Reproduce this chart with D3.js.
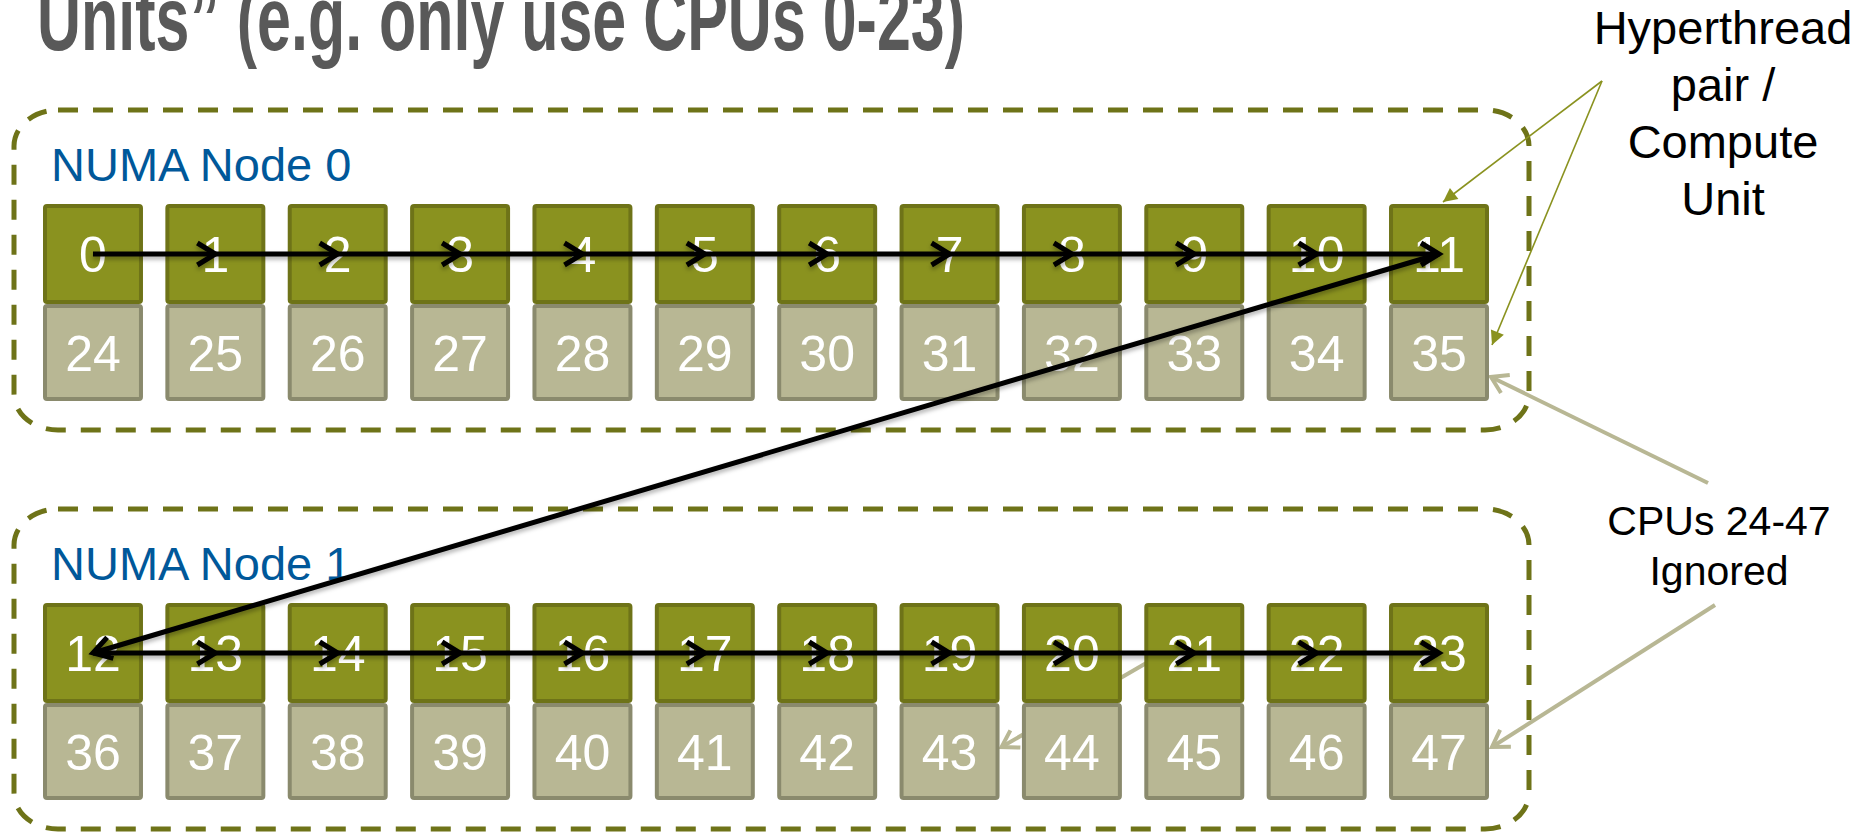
<!DOCTYPE html>
<html>
<head>
<meta charset="utf-8">
<script src="https://cdn.jsdelivr.net/npm/d3@7"></script>
<style>
body { margin: 0; background: #fff; }
svg { display: block; font-family: "Liberation Sans", Arial, sans-serif; }
</style>
</head>
<body>
<div id="chart"></div>
<script>
//data
var titleText = "Units\u201D (e.g. only use CPUs 0-23)";
var nodeNames = ["NUMA Node 0", "NUMA Node 1"];
var coreRows = [
    [0, 1, 2, 3, 4, 5, 6, 7, 8, 9, 10, 11],
    [12, 13, 14, 15, 16, 17, 18, 19, 20, 21, 22, 23]
];
var threadRows = [
    [24, 25, 26, 27, 28, 29, 30, 31, 32, 33, 34, 35],
    [36, 37, 38, 39, 40, 41, 42, 43, 44, 45, 46, 47]
];
//order the process is pinned in
var pinOrder = [0, 1, 2, 3, 4, 5, 6, 7, 8, 9, 10, 11, 12, 13, 14, 15, 16, 17, 18, 19, 20, 21, 22, 23];
var htLabel = ["Hyperthread", "pair /", "Compute", "Unit"];
var ignoredLabel = ["CPUs 24-47", "Ignored"];

//colors
var olive = "#8A921F", oliveDark = "#6E7318", tan = "#B8B794", tanDark = "#8A8A6D";

var width = 1866, height = 832;
var svg = d3.select("#chart").append("svg").attr("width", width).attr("height", height);

//scales: column -> x, node -> y of core row
var x = d3.scaleBand().domain(d3.range(12)).range([43, 1489]).paddingInner(0.183).paddingOuter(0);
var y = d3.scaleLinear().domain([0, 1]).range([204, 603]);
var coreH = 100, threadH = 97, bw = x.bandwidth();

//lookup position of each cpu
var pos = {};
coreRows.forEach(function(row, n){
    row.forEach(function(c, i){ pos[c] = {node: n, col: i}; });
});
function cx(c){ return x(pos[c].col) + bw / 2; }
function cy(c){ return y(pos[c].node) + coreH / 2; }

//markers + shadow
var defs = svg.append("defs");
defs.append("marker").attr("id", "chev")
    .attr("markerUnits", "userSpaceOnUse").attr("orient", "auto")
    .attr("viewBox", "-30 -20 40 40").attr("markerWidth", 40).attr("markerHeight", 40)
    .attr("refX", 0).attr("refY", 0)
    .append("path").attr("d", "M-18,-11 L0,0 L-18,11")
    .attr("fill", "none").attr("stroke", "#000").attr("stroke-width", 5);
defs.append("marker").attr("id", "chevGray")
    .attr("markerUnits", "userSpaceOnUse").attr("orient", "auto")
    .attr("viewBox", "-30 -20 40 40").attr("markerWidth", 40).attr("markerHeight", 40)
    .attr("refX", 0).attr("refY", 0)
    .append("path").attr("d", "M-16,-10 L0,0 L-16,10")
    .attr("fill", "none").attr("stroke", tan).attr("stroke-width", 4);
defs.append("marker").attr("id", "tri")
    .attr("markerUnits", "userSpaceOnUse").attr("orient", "auto")
    .attr("viewBox", "-20 -10 24 20").attr("markerWidth", 24).attr("markerHeight", 20)
    .attr("refX", 0).attr("refY", 0)
    .append("path").attr("d", "M-14,-7 L0,0 L-14,7 Z").attr("fill", olive);
defs.append("filter").attr("id", "shadow").attr("x", "-5%").attr("y", "-50%").attr("width", "110%").attr("height", "200%")
    .append("feDropShadow").attr("dx", 0).attr("dy", 3).attr("stdDeviation", 2)
    .attr("flood-color", "#000").attr("flood-opacity", 0.3);

//title (tall, narrow, clipped at top like the slide)
svg.append("text")
    .attr("x", 37).attr("y", 50)
    .attr("font-size", 90).attr("font-weight", "bold").attr("fill", "#595959")
    .attr("textLength", 928).attr("lengthAdjust", "spacingAndGlyphs")
    .text(titleText);

//numa node dashed boxes
var node = svg.selectAll("g.node").data(nodeNames).enter().append("g").attr("class", "node");
node.append("rect")
    .attr("x", 14).attr("y", function(d, i){ return y(i) - 94; })
    .attr("width", 1515).attr("height", 320)
    .attr("rx", 44).attr("ry", 36)
    .attr("fill", "none").attr("stroke", oliveDark).attr("stroke-width", 5)
    .attr("stroke-dasharray", "20,15");
node.append("text")
    .attr("x", 51).attr("y", function(d, i){ return y(i) - 23; })
    .attr("font-size", 47).attr("fill", "#00589A")
    .text(function(d){ return d; });

//gray leader lines (drawn under the boxes)
var gray = svg.append("g").attr("stroke", tan).attr("stroke-width", 4).attr("fill", "none");
gray.append("line")
    .attr("x1", 1708).attr("y1", 483)
    .attr("x2", x(11) + bw + 2).attr("y2", y(0) + coreH + 73)
    .attr("marker-end", "url(#chevGray)");
gray.append("line")
    .attr("x1", 1715).attr("y1", 605)
    .attr("x2", x(11) + bw + 3).attr("y2", y(1) + coreH + 44)
    .attr("marker-end", "url(#chevGray)");
gray.append("line")
    .attr("x1", x(9) + 40).attr("y1", y(1) + 38)
    .attr("x2", x(7) + bw + 2).attr("y2", y(1) + coreH + 44)
    .attr("marker-end", "url(#chevGray)");

//cores (top half) and their hyperthreads (bottom half)
function drawCells(rows, top, h, fill, stroke){
    rows.forEach(function(row, n){
        var g = svg.append("g");
        g.selectAll("rect").data(row).enter().append("rect")
            .attr("x", function(d, i){ return x(i) + 2; })
            .attr("y", top(n) + 2)
            .attr("width", bw - 4).attr("height", h - 4)
            .attr("rx", 2)
            .attr("fill", fill).attr("stroke", stroke).attr("stroke-width", 4);
        g.selectAll("text").data(row).enter().append("text")
            .attr("x", function(d, i){ return x(i) + bw / 2; })
            .attr("y", top(n) + h / 2 + 18)
            .attr("text-anchor", "middle")
            .attr("font-size", 50).attr("fill", "#fff")
            .text(function(d){ return d; });
    });
}
drawCells(coreRows, function(n){ return y(n); }, coreH, olive, oliveDark);
drawCells(threadRows, function(n){ return y(n) + coreH; }, threadH, tan, tanDark);

//pinning order arrows
var links = [];
for (var k = 0; k < pinOrder.length - 1; k++){
    links.push([pinOrder[k], pinOrder[k + 1]]);
}
svg.append("g").attr("filter", "url(#shadow)")
    .selectAll("line").data(links).enter().append("line")
    .attr("x1", function(d){ return cx(d[0]); })
    .attr("y1", function(d){ return cy(d[0]); })
    .attr("x2", function(d){ return cx(d[1]); })
    .attr("y2", function(d){ return cy(d[1]); })
    .attr("stroke", "#000").attr("stroke-width", 5)
    .attr("marker-end", "url(#chev)");

//olive leader lines for hyperthread pair
var lead = svg.append("g").attr("stroke", olive).attr("stroke-width", 1.6).attr("fill", "none");
lead.append("line")
    .attr("x1", 1602).attr("y1", 81)
    .attr("x2", x(11) + bw / 2 + 4).attr("y2", y(0) - 2)
    .attr("marker-end", "url(#tri)");
lead.append("line")
    .attr("x1", 1602).attr("y1", 81)
    .attr("x2", x(11) + bw + 3).attr("y2", y(0) + coreH + 41)
    .attr("marker-end", "url(#tri)");

//annotation text
svg.append("g").selectAll("text").data(htLabel).enter().append("text")
    .attr("x", 1723).attr("y", function(d, i){ return 44 + i * 57; })
    .attr("text-anchor", "middle").attr("font-size", 47).attr("fill", "#000")
    .text(function(d){ return d; });
svg.append("g").selectAll("text").data(ignoredLabel).enter().append("text")
    .attr("x", 1719).attr("y", function(d, i){ return 535 + i * 50; })
    .attr("text-anchor", "middle").attr("font-size", 41).attr("fill", "#000")
    .text(function(d){ return d; });
</script>
</body>
</html>
